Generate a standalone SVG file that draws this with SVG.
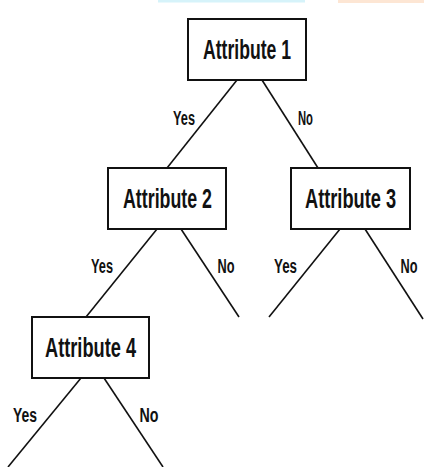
<svg xmlns="http://www.w3.org/2000/svg" width="424" height="467" viewBox="0 0 424 467">
<style>
.box{fill:#fff;stroke:#111;stroke-width:2}
.t{font-family:"Liberation Sans",Arial,sans-serif;font-weight:bold;font-size:28px;fill:#111;text-anchor:middle}
.l{font-family:"Liberation Sans",Arial,sans-serif;font-weight:bold;font-size:20px;fill:#111;text-anchor:middle}
.c{stroke:#111;stroke-width:1.6;fill:none}
</style>
<rect width="424" height="467" fill="#fff"/>
<rect x="158" y="0" width="147" height="2.5" fill="#d6f3fa"/>
<rect x="338" y="0" width="86" height="3" fill="#fde6d4"/>
<g id="connectors">
<line class="c" x1="237" y1="80" x2="167" y2="168"/>
<line class="c" x1="262" y1="80" x2="318" y2="168"/>
<line class="c" x1="157" y1="229" x2="86" y2="317"/>
<line class="c" x1="181" y1="229" x2="239" y2="317"/>
<line class="c" x1="340" y1="229" x2="269" y2="317"/>
<line class="c" x1="365" y1="229" x2="423" y2="319"/>
<line class="c" x1="81" y1="378" x2="8" y2="467"/>
<line class="c" x1="104" y1="378" x2="163" y2="467"/>
<text class="l" x="184" y="125" textLength="22" lengthAdjust="spacingAndGlyphs">Yes</text>
<text class="l" x="305.5" y="125" textLength="15" lengthAdjust="spacingAndGlyphs">No</text>
<text class="l" x="102" y="273" textLength="22" lengthAdjust="spacingAndGlyphs">Yes</text>
<text class="l" x="226" y="273" textLength="17" lengthAdjust="spacingAndGlyphs">No</text>
<text class="l" x="285.5" y="273" textLength="23" lengthAdjust="spacingAndGlyphs">Yes</text>
<text class="l" x="409" y="273" textLength="17" lengthAdjust="spacingAndGlyphs">No</text>
<text class="l" x="25" y="422" textLength="24" lengthAdjust="spacingAndGlyphs">Yes</text>
<text class="l" x="149" y="422" textLength="19" lengthAdjust="spacingAndGlyphs">No</text>
</g>
<g id="attr1">
<rect class="box" x="188" y="19" width="118" height="61"/>
<text class="t" x="247" y="59" textLength="88" lengthAdjust="spacingAndGlyphs">Attribute 1</text>
</g>
<g id="attr2">
<rect class="box" x="108" y="168" width="118" height="61"/>
<text class="t" x="167.5" y="208" textLength="89" lengthAdjust="spacingAndGlyphs">Attribute 2</text>
</g>
<g id="attr3">
<rect class="box" x="291" y="168" width="119" height="61"/>
<text class="t" x="350.5" y="208" textLength="91" lengthAdjust="spacingAndGlyphs">Attribute 3</text>
</g>
<g id="attr4">
<rect class="box" x="32" y="317" width="117" height="61"/>
<text class="t" x="90.5" y="357" textLength="91" lengthAdjust="spacingAndGlyphs">Attribute 4</text>
</g>
</svg>
